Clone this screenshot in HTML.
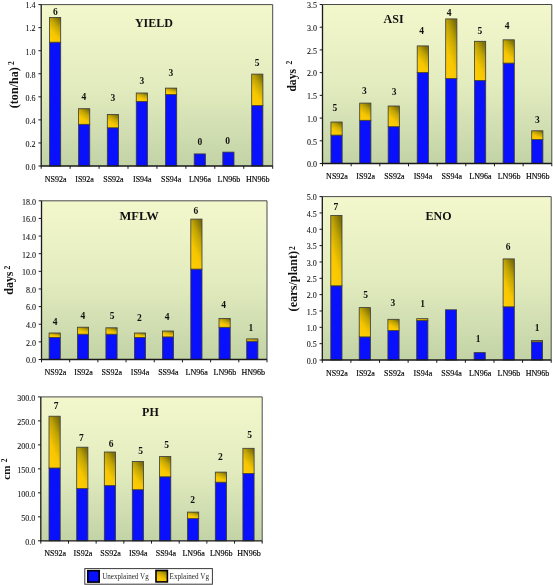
<!DOCTYPE html>
<html><head><meta charset="utf-8"><title>Variance components</title>
<style>
html,body{margin:0;padding:0;background:#fff;}
body{width:553px;height:585px;overflow:hidden;font-family:"Liberation Serif",serif;}
svg{display:block;will-change:transform;}
</style></head><body>
<svg width="553" height="585" viewBox="0 0 553 585">
<defs>
<linearGradient id="bg" x1="0" y1="0" x2="0" y2="1">
<stop offset="0" stop-color="#f3f8cc"/>
<stop offset="0.5" stop-color="#e3ecbf"/>
<stop offset="1" stop-color="#c2d3a6"/>
</linearGradient>
<linearGradient id="yl" x1="0.25" y1="1" x2="0.75" y2="0">
<stop offset="0" stop-color="#ffcc00"/>
<stop offset="0.35" stop-color="#f6c600"/>
<stop offset="0.7" stop-color="#c0a404"/>
<stop offset="1" stop-color="#7c6e08"/>
</linearGradient>
</defs>
<rect width="553" height="585" fill="#ffffff"/>
<rect x="41.2" y="4.6" width="231.5" height="161.4" fill="url(#bg)"/>
<path d="M41.2 4.6H272.7V166" fill="none" stroke="#4a4a4a" stroke-width="1"/>
<rect x="49.5" y="42.2" width="11.2" height="123.8" fill="#0810fc" stroke="#3a3a3a" stroke-width="0.8"/>
<rect x="49.5" y="17.4" width="11.2" height="24.8" fill="url(#yl)" stroke="#3a3a3a" stroke-width="0.8"/>
<text x="55.3" y="15.3" font-family='"Liberation Serif", serif' font-weight="bold" font-size="9.5" text-anchor="middle" fill="#111">6</text>
<rect x="78.55" y="124.3" width="11.2" height="41.7" fill="#0810fc" stroke="#3a3a3a" stroke-width="0.8"/>
<rect x="78.55" y="108.7" width="11.2" height="15.6" fill="url(#yl)" stroke="#3a3a3a" stroke-width="0.8"/>
<text x="83.9" y="100.1" font-family='"Liberation Serif", serif' font-weight="bold" font-size="9.5" text-anchor="middle" fill="#111">4</text>
<rect x="107.3" y="127.8" width="11.2" height="38.2" fill="#0810fc" stroke="#3a3a3a" stroke-width="0.8"/>
<rect x="107.3" y="114.5" width="11.2" height="13.3" fill="url(#yl)" stroke="#3a3a3a" stroke-width="0.8"/>
<text x="112.9" y="101.3" font-family='"Liberation Serif", serif' font-weight="bold" font-size="9.5" text-anchor="middle" fill="#111">3</text>
<rect x="136.25" y="101.4" width="11.2" height="64.6" fill="#0810fc" stroke="#3a3a3a" stroke-width="0.8"/>
<rect x="136.25" y="93" width="11.2" height="8.4" fill="url(#yl)" stroke="#3a3a3a" stroke-width="0.8"/>
<text x="141.8" y="84.2" font-family='"Liberation Serif", serif' font-weight="bold" font-size="9.5" text-anchor="middle" fill="#111">3</text>
<rect x="165.5" y="94.5" width="11.2" height="71.5" fill="#0810fc" stroke="#3a3a3a" stroke-width="0.8"/>
<rect x="165.5" y="88.1" width="11.2" height="6.4" fill="url(#yl)" stroke="#3a3a3a" stroke-width="0.8"/>
<text x="170.9" y="76.4" font-family='"Liberation Serif", serif' font-weight="bold" font-size="9.5" text-anchor="middle" fill="#111">3</text>
<rect x="194.2" y="153.9" width="11.2" height="12.1" fill="#0810fc" stroke="#3a3a3a" stroke-width="0.8"/>
<text x="199.8" y="144.8" font-family='"Liberation Serif", serif' font-weight="bold" font-size="9.5" text-anchor="middle" fill="#111">0</text>
<rect x="222.8" y="152.1" width="11.2" height="13.9" fill="#0810fc" stroke="#3a3a3a" stroke-width="0.8"/>
<text x="227.7" y="143.6" font-family='"Liberation Serif", serif' font-weight="bold" font-size="9.5" text-anchor="middle" fill="#111">0</text>
<rect x="251.7" y="105.5" width="11.2" height="60.5" fill="#0810fc" stroke="#3a3a3a" stroke-width="0.8"/>
<rect x="251.7" y="74.1" width="11.2" height="31.4" fill="url(#yl)" stroke="#3a3a3a" stroke-width="0.8"/>
<text x="257" y="65.7" font-family='"Liberation Serif", serif' font-weight="bold" font-size="9.5" text-anchor="middle" fill="#111">5</text>
<path d="M41.2 4.6V166H272.7" fill="none" stroke="#1a1a1a" stroke-width="1.3"/>
<path d="M38.4 166H41.2" stroke="#1a1a1a" stroke-width="1"/>
<text x="35.6" y="169.8" font-family='"Liberation Serif", serif' font-size="8" text-anchor="end" fill="#111" stroke="#111" stroke-width="0.08">0.0</text>
<path d="M38.4 142.94H41.2" stroke="#1a1a1a" stroke-width="1"/>
<text x="35.6" y="146.74" font-family='"Liberation Serif", serif' font-size="8" text-anchor="end" fill="#111" stroke="#111" stroke-width="0.08">0.2</text>
<path d="M38.4 119.89H41.2" stroke="#1a1a1a" stroke-width="1"/>
<text x="35.6" y="123.69" font-family='"Liberation Serif", serif' font-size="8" text-anchor="end" fill="#111" stroke="#111" stroke-width="0.08">0.4</text>
<path d="M38.4 96.83H41.2" stroke="#1a1a1a" stroke-width="1"/>
<text x="35.6" y="100.63" font-family='"Liberation Serif", serif' font-size="8" text-anchor="end" fill="#111" stroke="#111" stroke-width="0.08">0.6</text>
<path d="M38.4 73.77H41.2" stroke="#1a1a1a" stroke-width="1"/>
<text x="35.6" y="77.57" font-family='"Liberation Serif", serif' font-size="8" text-anchor="end" fill="#111" stroke="#111" stroke-width="0.08">0.8</text>
<path d="M38.4 50.71H41.2" stroke="#1a1a1a" stroke-width="1"/>
<text x="35.6" y="54.51" font-family='"Liberation Serif", serif' font-size="8" text-anchor="end" fill="#111" stroke="#111" stroke-width="0.08">1.0</text>
<path d="M38.4 27.66H41.2" stroke="#1a1a1a" stroke-width="1"/>
<text x="35.6" y="31.46" font-family='"Liberation Serif", serif' font-size="8" text-anchor="end" fill="#111" stroke="#111" stroke-width="0.08">1.2</text>
<path d="M38.4 4.6H41.2" stroke="#1a1a1a" stroke-width="1"/>
<text x="35.6" y="8.4" font-family='"Liberation Serif", serif' font-size="8" text-anchor="end" fill="#111" stroke="#111" stroke-width="0.08">1.4</text>
<path d="M41.2 166V168.8" stroke="#1a1a1a" stroke-width="1"/>
<path d="M70.14 166V168.8" stroke="#1a1a1a" stroke-width="1"/>
<path d="M99.08 166V168.8" stroke="#1a1a1a" stroke-width="1"/>
<path d="M128.01 166V168.8" stroke="#1a1a1a" stroke-width="1"/>
<path d="M156.95 166V168.8" stroke="#1a1a1a" stroke-width="1"/>
<path d="M185.89 166V168.8" stroke="#1a1a1a" stroke-width="1"/>
<path d="M214.82 166V168.8" stroke="#1a1a1a" stroke-width="1"/>
<path d="M243.76 166V168.8" stroke="#1a1a1a" stroke-width="1"/>
<path d="M272.7 166V168.8" stroke="#1a1a1a" stroke-width="1"/>
<text x="55.7" y="181.7" font-family='"Liberation Serif", serif' font-size="8" text-anchor="middle" fill="#000" stroke="#000" stroke-width="0.15">NS92a</text>
<text x="84.57" y="181.7" font-family='"Liberation Serif", serif' font-size="8" text-anchor="middle" fill="#000" stroke="#000" stroke-width="0.15">IS92a</text>
<text x="113.44" y="181.7" font-family='"Liberation Serif", serif' font-size="8" text-anchor="middle" fill="#000" stroke="#000" stroke-width="0.15">SS92a</text>
<text x="142.31" y="181.7" font-family='"Liberation Serif", serif' font-size="8" text-anchor="middle" fill="#000" stroke="#000" stroke-width="0.15">IS94a</text>
<text x="171.18" y="181.7" font-family='"Liberation Serif", serif' font-size="8" text-anchor="middle" fill="#000" stroke="#000" stroke-width="0.15">SS94a</text>
<text x="200.05" y="181.7" font-family='"Liberation Serif", serif' font-size="8" text-anchor="middle" fill="#000" stroke="#000" stroke-width="0.15">LN96a</text>
<text x="228.92" y="181.7" font-family='"Liberation Serif", serif' font-size="8" text-anchor="middle" fill="#000" stroke="#000" stroke-width="0.15">LN96b</text>
<text x="257.79" y="181.7" font-family='"Liberation Serif", serif' font-size="8" text-anchor="middle" fill="#000" stroke="#000" stroke-width="0.15">HN96b</text>
<text x="153.9" y="26.9" font-family='"Liberation Serif", serif' font-weight="bold" font-size="12" text-anchor="middle" fill="#111">YIELD</text>
<text transform="translate(18.3,108.2) rotate(-90)" font-family='"Liberation Serif", serif' font-weight="bold" font-size="11.6" textLength="41" lengthAdjust="spacingAndGlyphs" fill="#111">(ton/ha)</text>
<text transform="translate(13.9,64.9) rotate(-90)" font-family='"Liberation Serif", serif' font-weight="bold" font-size="7.5" fill="#111">2</text>
<rect x="322.5" y="4.5" width="229.3" height="159" fill="url(#bg)"/>
<path d="M322.5 4.5H551.8V163.5" fill="none" stroke="#4a4a4a" stroke-width="1"/>
<rect x="330.95" y="135.1" width="11.2" height="28.4" fill="#0810fc" stroke="#3a3a3a" stroke-width="0.8"/>
<rect x="330.95" y="122" width="11.2" height="13.1" fill="url(#yl)" stroke="#3a3a3a" stroke-width="0.8"/>
<text x="334.9" y="111.2" font-family='"Liberation Serif", serif' font-weight="bold" font-size="9.5" text-anchor="middle" fill="#111">5</text>
<rect x="359.7" y="120.3" width="11.2" height="43.2" fill="#0810fc" stroke="#3a3a3a" stroke-width="0.8"/>
<rect x="359.7" y="103.1" width="11.2" height="17.2" fill="url(#yl)" stroke="#3a3a3a" stroke-width="0.8"/>
<text x="364.3" y="94.3" font-family='"Liberation Serif", serif' font-weight="bold" font-size="9.5" text-anchor="middle" fill="#111">3</text>
<rect x="388.15" y="126.7" width="11.2" height="36.8" fill="#0810fc" stroke="#3a3a3a" stroke-width="0.8"/>
<rect x="388.15" y="106" width="11.2" height="20.7" fill="url(#yl)" stroke="#3a3a3a" stroke-width="0.8"/>
<text x="394.1" y="94.9" font-family='"Liberation Serif", serif' font-weight="bold" font-size="9.5" text-anchor="middle" fill="#111">3</text>
<rect x="417.2" y="72.6" width="11.2" height="90.9" fill="#0810fc" stroke="#3a3a3a" stroke-width="0.8"/>
<rect x="417.2" y="45.9" width="11.2" height="26.7" fill="url(#yl)" stroke="#3a3a3a" stroke-width="0.8"/>
<text x="421.6" y="34.3" font-family='"Liberation Serif", serif' font-weight="bold" font-size="9.5" text-anchor="middle" fill="#111">4</text>
<rect x="445.7" y="78.5" width="11.2" height="85" fill="#0810fc" stroke="#3a3a3a" stroke-width="0.8"/>
<rect x="445.7" y="18.9" width="11.2" height="59.6" fill="url(#yl)" stroke="#3a3a3a" stroke-width="0.8"/>
<text x="449.2" y="15.7" font-family='"Liberation Serif", serif' font-weight="bold" font-size="9.5" text-anchor="middle" fill="#111">4</text>
<rect x="474.5" y="80.5" width="11.2" height="83" fill="#0810fc" stroke="#3a3a3a" stroke-width="0.8"/>
<rect x="474.5" y="41.3" width="11.2" height="39.2" fill="url(#yl)" stroke="#3a3a3a" stroke-width="0.8"/>
<text x="479.8" y="34.4" font-family='"Liberation Serif", serif' font-weight="bold" font-size="9.5" text-anchor="middle" fill="#111">5</text>
<rect x="503.1" y="63.1" width="11.2" height="100.4" fill="#0810fc" stroke="#3a3a3a" stroke-width="0.8"/>
<rect x="503.1" y="39.8" width="11.2" height="23.3" fill="url(#yl)" stroke="#3a3a3a" stroke-width="0.8"/>
<text x="507.1" y="28.7" font-family='"Liberation Serif", serif' font-weight="bold" font-size="9.5" text-anchor="middle" fill="#111">4</text>
<rect x="531.7" y="139.5" width="11.2" height="24" fill="#0810fc" stroke="#3a3a3a" stroke-width="0.8"/>
<rect x="531.7" y="130.8" width="11.2" height="8.7" fill="url(#yl)" stroke="#3a3a3a" stroke-width="0.8"/>
<text x="537.3" y="122.5" font-family='"Liberation Serif", serif' font-weight="bold" font-size="9.5" text-anchor="middle" fill="#111">3</text>
<path d="M322.5 4.5V163.5H551.8" fill="none" stroke="#1a1a1a" stroke-width="1.3"/>
<path d="M319.7 163.5H322.5" stroke="#1a1a1a" stroke-width="1"/>
<text x="316.9" y="167.3" font-family='"Liberation Serif", serif' font-size="8" text-anchor="end" fill="#111" stroke="#111" stroke-width="0.08">0.0</text>
<path d="M319.7 140.79H322.5" stroke="#1a1a1a" stroke-width="1"/>
<text x="316.9" y="144.59" font-family='"Liberation Serif", serif' font-size="8" text-anchor="end" fill="#111" stroke="#111" stroke-width="0.08">0.5</text>
<path d="M319.7 118.07H322.5" stroke="#1a1a1a" stroke-width="1"/>
<text x="316.9" y="121.87" font-family='"Liberation Serif", serif' font-size="8" text-anchor="end" fill="#111" stroke="#111" stroke-width="0.08">1.0</text>
<path d="M319.7 95.36H322.5" stroke="#1a1a1a" stroke-width="1"/>
<text x="316.9" y="99.16" font-family='"Liberation Serif", serif' font-size="8" text-anchor="end" fill="#111" stroke="#111" stroke-width="0.08">1.5</text>
<path d="M319.7 72.64H322.5" stroke="#1a1a1a" stroke-width="1"/>
<text x="316.9" y="76.44" font-family='"Liberation Serif", serif' font-size="8" text-anchor="end" fill="#111" stroke="#111" stroke-width="0.08">2.0</text>
<path d="M319.7 49.93H322.5" stroke="#1a1a1a" stroke-width="1"/>
<text x="316.9" y="53.73" font-family='"Liberation Serif", serif' font-size="8" text-anchor="end" fill="#111" stroke="#111" stroke-width="0.08">2.5</text>
<path d="M319.7 27.21H322.5" stroke="#1a1a1a" stroke-width="1"/>
<text x="316.9" y="31.01" font-family='"Liberation Serif", serif' font-size="8" text-anchor="end" fill="#111" stroke="#111" stroke-width="0.08">3.0</text>
<path d="M319.7 4.5H322.5" stroke="#1a1a1a" stroke-width="1"/>
<text x="316.9" y="8.3" font-family='"Liberation Serif", serif' font-size="8" text-anchor="end" fill="#111" stroke="#111" stroke-width="0.08">3.5</text>
<path d="M322.5 163.5V166.3" stroke="#1a1a1a" stroke-width="1"/>
<path d="M351.16 163.5V166.3" stroke="#1a1a1a" stroke-width="1"/>
<path d="M379.82 163.5V166.3" stroke="#1a1a1a" stroke-width="1"/>
<path d="M408.49 163.5V166.3" stroke="#1a1a1a" stroke-width="1"/>
<path d="M437.15 163.5V166.3" stroke="#1a1a1a" stroke-width="1"/>
<path d="M465.81 163.5V166.3" stroke="#1a1a1a" stroke-width="1"/>
<path d="M494.47 163.5V166.3" stroke="#1a1a1a" stroke-width="1"/>
<path d="M523.14 163.5V166.3" stroke="#1a1a1a" stroke-width="1"/>
<path d="M551.8 163.5V166.3" stroke="#1a1a1a" stroke-width="1"/>
<text x="337" y="179" font-family='"Liberation Serif", serif' font-size="8" text-anchor="middle" fill="#000" stroke="#000" stroke-width="0.15">NS92a</text>
<text x="365.68" y="179" font-family='"Liberation Serif", serif' font-size="8" text-anchor="middle" fill="#000" stroke="#000" stroke-width="0.15">IS92a</text>
<text x="394.36" y="179" font-family='"Liberation Serif", serif' font-size="8" text-anchor="middle" fill="#000" stroke="#000" stroke-width="0.15">SS92a</text>
<text x="423.04" y="179" font-family='"Liberation Serif", serif' font-size="8" text-anchor="middle" fill="#000" stroke="#000" stroke-width="0.15">IS94a</text>
<text x="451.72" y="179" font-family='"Liberation Serif", serif' font-size="8" text-anchor="middle" fill="#000" stroke="#000" stroke-width="0.15">SS94a</text>
<text x="480.4" y="179" font-family='"Liberation Serif", serif' font-size="8" text-anchor="middle" fill="#000" stroke="#000" stroke-width="0.15">LN96a</text>
<text x="509.08" y="179" font-family='"Liberation Serif", serif' font-size="8" text-anchor="middle" fill="#000" stroke="#000" stroke-width="0.15">LN96b</text>
<text x="537.76" y="179" font-family='"Liberation Serif", serif' font-size="8" text-anchor="middle" fill="#000" stroke="#000" stroke-width="0.15">HN96b</text>
<text x="393.6" y="23.4" font-family='"Liberation Serif", serif' font-weight="bold" font-size="12" text-anchor="middle" fill="#111">ASI</text>
<text transform="translate(295.6,91.6) rotate(-90)" font-family='"Liberation Serif", serif' font-weight="bold" font-size="12.3" textLength="22.6" lengthAdjust="spacingAndGlyphs" fill="#111">days</text>
<text transform="translate(292,64.4) rotate(-90)" font-family='"Liberation Serif", serif' font-weight="bold" font-size="7.5" fill="#111">2</text>
<rect x="41.5" y="200.8" width="225.5" height="158.7" fill="url(#bg)"/>
<path d="M41.5 200.8H267V359.5" fill="none" stroke="#4a4a4a" stroke-width="1"/>
<rect x="49.1" y="337.4" width="11.2" height="22.1" fill="#0810fc" stroke="#3a3a3a" stroke-width="0.8"/>
<rect x="49.1" y="333" width="11.2" height="4.4" fill="url(#yl)" stroke="#3a3a3a" stroke-width="0.8"/>
<text x="55" y="325.4" font-family='"Liberation Serif", serif' font-weight="bold" font-size="9.5" text-anchor="middle" fill="#111">4</text>
<rect x="77.4" y="334.2" width="11.2" height="25.3" fill="#0810fc" stroke="#3a3a3a" stroke-width="0.8"/>
<rect x="77.4" y="327.2" width="11.2" height="7" fill="url(#yl)" stroke="#3a3a3a" stroke-width="0.8"/>
<text x="82.9" y="319.4" font-family='"Liberation Serif", serif' font-weight="bold" font-size="9.5" text-anchor="middle" fill="#111">4</text>
<rect x="105.9" y="334.2" width="11.2" height="25.3" fill="#0810fc" stroke="#3a3a3a" stroke-width="0.8"/>
<rect x="105.9" y="327.8" width="11.2" height="6.4" fill="url(#yl)" stroke="#3a3a3a" stroke-width="0.8"/>
<text x="112.2" y="319.4" font-family='"Liberation Serif", serif' font-weight="bold" font-size="9.5" text-anchor="middle" fill="#111">5</text>
<rect x="134.4" y="337.4" width="11.2" height="22.1" fill="#0810fc" stroke="#3a3a3a" stroke-width="0.8"/>
<rect x="134.4" y="333" width="11.2" height="4.4" fill="url(#yl)" stroke="#3a3a3a" stroke-width="0.8"/>
<text x="139.4" y="320.9" font-family='"Liberation Serif", serif' font-weight="bold" font-size="9.5" text-anchor="middle" fill="#111">2</text>
<rect x="162.4" y="336.9" width="11.2" height="22.6" fill="#0810fc" stroke="#3a3a3a" stroke-width="0.8"/>
<rect x="162.4" y="331" width="11.2" height="5.9" fill="url(#yl)" stroke="#3a3a3a" stroke-width="0.8"/>
<text x="167.2" y="320.4" font-family='"Liberation Serif", serif' font-weight="bold" font-size="9.5" text-anchor="middle" fill="#111">4</text>
<rect x="190.8" y="269.1" width="11.2" height="90.4" fill="#0810fc" stroke="#3a3a3a" stroke-width="0.8"/>
<rect x="190.8" y="219.1" width="11.2" height="50" fill="url(#yl)" stroke="#3a3a3a" stroke-width="0.8"/>
<text x="195.9" y="214" font-family='"Liberation Serif", serif' font-weight="bold" font-size="9.5" text-anchor="middle" fill="#111">6</text>
<rect x="219" y="327.3" width="11.2" height="32.2" fill="#0810fc" stroke="#3a3a3a" stroke-width="0.8"/>
<rect x="219" y="318.5" width="11.2" height="8.8" fill="url(#yl)" stroke="#3a3a3a" stroke-width="0.8"/>
<text x="223.5" y="308.4" font-family='"Liberation Serif", serif' font-weight="bold" font-size="9.5" text-anchor="middle" fill="#111">4</text>
<rect x="246.7" y="341.2" width="11.2" height="18.3" fill="#0810fc" stroke="#3a3a3a" stroke-width="0.8"/>
<rect x="246.7" y="338.9" width="11.2" height="2.3" fill="url(#yl)" stroke="#3a3a3a" stroke-width="0.8"/>
<text x="250.8" y="331.1" font-family='"Liberation Serif", serif' font-weight="bold" font-size="9.5" text-anchor="middle" fill="#111">1</text>
<path d="M41.5 200.8V359.5H267" fill="none" stroke="#1a1a1a" stroke-width="1.3"/>
<path d="M38.7 359.5H41.5" stroke="#1a1a1a" stroke-width="1"/>
<text x="35.9" y="363.3" font-family='"Liberation Serif", serif' font-size="8" text-anchor="end" fill="#111" stroke="#111" stroke-width="0.08">0.0</text>
<path d="M38.7 341.87H41.5" stroke="#1a1a1a" stroke-width="1"/>
<text x="35.9" y="345.67" font-family='"Liberation Serif", serif' font-size="8" text-anchor="end" fill="#111" stroke="#111" stroke-width="0.08">2.0</text>
<path d="M38.7 324.23H41.5" stroke="#1a1a1a" stroke-width="1"/>
<text x="35.9" y="328.03" font-family='"Liberation Serif", serif' font-size="8" text-anchor="end" fill="#111" stroke="#111" stroke-width="0.08">4.0</text>
<path d="M38.7 306.6H41.5" stroke="#1a1a1a" stroke-width="1"/>
<text x="35.9" y="310.4" font-family='"Liberation Serif", serif' font-size="8" text-anchor="end" fill="#111" stroke="#111" stroke-width="0.08">6.0</text>
<path d="M38.7 288.97H41.5" stroke="#1a1a1a" stroke-width="1"/>
<text x="35.9" y="292.77" font-family='"Liberation Serif", serif' font-size="8" text-anchor="end" fill="#111" stroke="#111" stroke-width="0.08">8.0</text>
<path d="M38.7 271.33H41.5" stroke="#1a1a1a" stroke-width="1"/>
<text x="35.9" y="275.13" font-family='"Liberation Serif", serif' font-size="8" text-anchor="end" fill="#111" stroke="#111" stroke-width="0.08">10.0</text>
<path d="M38.7 253.7H41.5" stroke="#1a1a1a" stroke-width="1"/>
<text x="35.9" y="257.5" font-family='"Liberation Serif", serif' font-size="8" text-anchor="end" fill="#111" stroke="#111" stroke-width="0.08">12.0</text>
<path d="M38.7 236.07H41.5" stroke="#1a1a1a" stroke-width="1"/>
<text x="35.9" y="239.87" font-family='"Liberation Serif", serif' font-size="8" text-anchor="end" fill="#111" stroke="#111" stroke-width="0.08">14.0</text>
<path d="M38.7 218.43H41.5" stroke="#1a1a1a" stroke-width="1"/>
<text x="35.9" y="222.23" font-family='"Liberation Serif", serif' font-size="8" text-anchor="end" fill="#111" stroke="#111" stroke-width="0.08">16.0</text>
<path d="M38.7 200.8H41.5" stroke="#1a1a1a" stroke-width="1"/>
<text x="35.9" y="204.6" font-family='"Liberation Serif", serif' font-size="8" text-anchor="end" fill="#111" stroke="#111" stroke-width="0.08">18.0</text>
<path d="M41.5 359.5V362.3" stroke="#1a1a1a" stroke-width="1"/>
<path d="M69.69 359.5V362.3" stroke="#1a1a1a" stroke-width="1"/>
<path d="M97.88 359.5V362.3" stroke="#1a1a1a" stroke-width="1"/>
<path d="M126.06 359.5V362.3" stroke="#1a1a1a" stroke-width="1"/>
<path d="M154.25 359.5V362.3" stroke="#1a1a1a" stroke-width="1"/>
<path d="M182.44 359.5V362.3" stroke="#1a1a1a" stroke-width="1"/>
<path d="M210.62 359.5V362.3" stroke="#1a1a1a" stroke-width="1"/>
<path d="M238.81 359.5V362.3" stroke="#1a1a1a" stroke-width="1"/>
<path d="M267 359.5V362.3" stroke="#1a1a1a" stroke-width="1"/>
<text x="55.3" y="375.3" font-family='"Liberation Serif", serif' font-size="8" text-anchor="middle" fill="#000" stroke="#000" stroke-width="0.15">NS92a</text>
<text x="83.56" y="375.3" font-family='"Liberation Serif", serif' font-size="8" text-anchor="middle" fill="#000" stroke="#000" stroke-width="0.15">IS92a</text>
<text x="111.83" y="375.3" font-family='"Liberation Serif", serif' font-size="8" text-anchor="middle" fill="#000" stroke="#000" stroke-width="0.15">SS92a</text>
<text x="140.09" y="375.3" font-family='"Liberation Serif", serif' font-size="8" text-anchor="middle" fill="#000" stroke="#000" stroke-width="0.15">IS94a</text>
<text x="168.36" y="375.3" font-family='"Liberation Serif", serif' font-size="8" text-anchor="middle" fill="#000" stroke="#000" stroke-width="0.15">SS94a</text>
<text x="196.62" y="375.3" font-family='"Liberation Serif", serif' font-size="8" text-anchor="middle" fill="#000" stroke="#000" stroke-width="0.15">LN96a</text>
<text x="224.89" y="375.3" font-family='"Liberation Serif", serif' font-size="8" text-anchor="middle" fill="#000" stroke="#000" stroke-width="0.15">LN96b</text>
<text x="253.16" y="375.3" font-family='"Liberation Serif", serif' font-size="8" text-anchor="middle" fill="#000" stroke="#000" stroke-width="0.15">HN96b</text>
<text x="139.1" y="219.6" font-family='"Liberation Serif", serif' font-weight="bold" font-size="12.5" text-anchor="middle" fill="#111">MFLW</text>
<text transform="translate(12.8,294.7) rotate(-90)" font-family='"Liberation Serif", serif' font-weight="bold" font-size="12.3" textLength="23.2" lengthAdjust="spacingAndGlyphs" fill="#111">days</text>
<text transform="translate(10.3,269.4) rotate(-90)" font-family='"Liberation Serif", serif' font-weight="bold" font-size="7.5" fill="#111">2</text>
<rect x="322.3" y="196.6" width="228.9" height="163.4" fill="url(#bg)"/>
<path d="M322.3 196.6H551.2V360" fill="none" stroke="#4a4a4a" stroke-width="1"/>
<rect x="330.8" y="285.8" width="11.2" height="74.2" fill="#0810fc" stroke="#3a3a3a" stroke-width="0.8"/>
<rect x="330.8" y="215.4" width="11.2" height="70.4" fill="url(#yl)" stroke="#3a3a3a" stroke-width="0.8"/>
<text x="335.9" y="210.2" font-family='"Liberation Serif", serif' font-weight="bold" font-size="9.5" text-anchor="middle" fill="#111">7</text>
<rect x="359.2" y="336.9" width="11.2" height="23.1" fill="#0810fc" stroke="#3a3a3a" stroke-width="0.8"/>
<rect x="359.2" y="307.6" width="11.2" height="29.3" fill="url(#yl)" stroke="#3a3a3a" stroke-width="0.8"/>
<text x="365.7" y="298" font-family='"Liberation Serif", serif' font-weight="bold" font-size="9.5" text-anchor="middle" fill="#111">5</text>
<rect x="387.9" y="330.6" width="11.2" height="29.4" fill="#0810fc" stroke="#3a3a3a" stroke-width="0.8"/>
<rect x="387.9" y="319.3" width="11.2" height="11.3" fill="url(#yl)" stroke="#3a3a3a" stroke-width="0.8"/>
<text x="392.9" y="305.7" font-family='"Liberation Serif", serif' font-weight="bold" font-size="9.5" text-anchor="middle" fill="#111">3</text>
<rect x="416.7" y="320.5" width="11.2" height="39.5" fill="#0810fc" stroke="#3a3a3a" stroke-width="0.8"/>
<rect x="416.7" y="318.7" width="11.2" height="1.8" fill="url(#yl)" stroke="#3a3a3a" stroke-width="0.8"/>
<text x="422.7" y="307.1" font-family='"Liberation Serif", serif' font-weight="bold" font-size="9.5" text-anchor="middle" fill="#111">1</text>
<rect x="445.4" y="309.8" width="11.2" height="50.2" fill="#0810fc" stroke="#3a3a3a" stroke-width="0.8"/>
<rect x="474.1" y="352.6" width="11.2" height="7.4" fill="#0810fc" stroke="#3a3a3a" stroke-width="0.8"/>
<text x="478" y="341.7" font-family='"Liberation Serif", serif' font-weight="bold" font-size="9.5" text-anchor="middle" fill="#111">1</text>
<rect x="503.1" y="306.8" width="11.2" height="53.2" fill="#0810fc" stroke="#3a3a3a" stroke-width="0.8"/>
<rect x="503.1" y="258.9" width="11.2" height="47.9" fill="url(#yl)" stroke="#3a3a3a" stroke-width="0.8"/>
<text x="508.1" y="249.9" font-family='"Liberation Serif", serif' font-weight="bold" font-size="9.5" text-anchor="middle" fill="#111">6</text>
<rect x="531.4" y="341.8" width="11.2" height="18.2" fill="#0810fc" stroke="#3a3a3a" stroke-width="0.8"/>
<rect x="531.4" y="340.6" width="11.2" height="1.2" fill="url(#yl)" stroke="#3a3a3a" stroke-width="0.8"/>
<text x="537.2" y="331.4" font-family='"Liberation Serif", serif' font-weight="bold" font-size="9.5" text-anchor="middle" fill="#111">1</text>
<path d="M322.3 196.6V360H551.2" fill="none" stroke="#1a1a1a" stroke-width="1.3"/>
<path d="M319.5 360H322.3" stroke="#1a1a1a" stroke-width="1"/>
<text x="316.7" y="363.8" font-family='"Liberation Serif", serif' font-size="8" text-anchor="end" fill="#111" stroke="#111" stroke-width="0.08">0.0</text>
<path d="M319.5 343.66H322.3" stroke="#1a1a1a" stroke-width="1"/>
<text x="316.7" y="347.46" font-family='"Liberation Serif", serif' font-size="8" text-anchor="end" fill="#111" stroke="#111" stroke-width="0.08">0.5</text>
<path d="M319.5 327.32H322.3" stroke="#1a1a1a" stroke-width="1"/>
<text x="316.7" y="331.12" font-family='"Liberation Serif", serif' font-size="8" text-anchor="end" fill="#111" stroke="#111" stroke-width="0.08">1.0</text>
<path d="M319.5 310.98H322.3" stroke="#1a1a1a" stroke-width="1"/>
<text x="316.7" y="314.78" font-family='"Liberation Serif", serif' font-size="8" text-anchor="end" fill="#111" stroke="#111" stroke-width="0.08">1.5</text>
<path d="M319.5 294.64H322.3" stroke="#1a1a1a" stroke-width="1"/>
<text x="316.7" y="298.44" font-family='"Liberation Serif", serif' font-size="8" text-anchor="end" fill="#111" stroke="#111" stroke-width="0.08">2.0</text>
<path d="M319.5 278.3H322.3" stroke="#1a1a1a" stroke-width="1"/>
<text x="316.7" y="282.1" font-family='"Liberation Serif", serif' font-size="8" text-anchor="end" fill="#111" stroke="#111" stroke-width="0.08">2.5</text>
<path d="M319.5 261.96H322.3" stroke="#1a1a1a" stroke-width="1"/>
<text x="316.7" y="265.76" font-family='"Liberation Serif", serif' font-size="8" text-anchor="end" fill="#111" stroke="#111" stroke-width="0.08">3.0</text>
<path d="M319.5 245.62H322.3" stroke="#1a1a1a" stroke-width="1"/>
<text x="316.7" y="249.42" font-family='"Liberation Serif", serif' font-size="8" text-anchor="end" fill="#111" stroke="#111" stroke-width="0.08">3.5</text>
<path d="M319.5 229.28H322.3" stroke="#1a1a1a" stroke-width="1"/>
<text x="316.7" y="233.08" font-family='"Liberation Serif", serif' font-size="8" text-anchor="end" fill="#111" stroke="#111" stroke-width="0.08">4.0</text>
<path d="M319.5 212.94H322.3" stroke="#1a1a1a" stroke-width="1"/>
<text x="316.7" y="216.74" font-family='"Liberation Serif", serif' font-size="8" text-anchor="end" fill="#111" stroke="#111" stroke-width="0.08">4.5</text>
<path d="M319.5 196.6H322.3" stroke="#1a1a1a" stroke-width="1"/>
<text x="316.7" y="200.4" font-family='"Liberation Serif", serif' font-size="8" text-anchor="end" fill="#111" stroke="#111" stroke-width="0.08">5.0</text>
<path d="M322.3 360V362.8" stroke="#1a1a1a" stroke-width="1"/>
<path d="M350.91 360V362.8" stroke="#1a1a1a" stroke-width="1"/>
<path d="M379.53 360V362.8" stroke="#1a1a1a" stroke-width="1"/>
<path d="M408.14 360V362.8" stroke="#1a1a1a" stroke-width="1"/>
<path d="M436.75 360V362.8" stroke="#1a1a1a" stroke-width="1"/>
<path d="M465.36 360V362.8" stroke="#1a1a1a" stroke-width="1"/>
<path d="M493.98 360V362.8" stroke="#1a1a1a" stroke-width="1"/>
<path d="M522.59 360V362.8" stroke="#1a1a1a" stroke-width="1"/>
<path d="M551.2 360V362.8" stroke="#1a1a1a" stroke-width="1"/>
<text x="336.9" y="375.8" font-family='"Liberation Serif", serif' font-size="8" text-anchor="middle" fill="#000" stroke="#000" stroke-width="0.15">NS92a</text>
<text x="365.56" y="375.8" font-family='"Liberation Serif", serif' font-size="8" text-anchor="middle" fill="#000" stroke="#000" stroke-width="0.15">IS92a</text>
<text x="394.22" y="375.8" font-family='"Liberation Serif", serif' font-size="8" text-anchor="middle" fill="#000" stroke="#000" stroke-width="0.15">SS92a</text>
<text x="422.88" y="375.8" font-family='"Liberation Serif", serif' font-size="8" text-anchor="middle" fill="#000" stroke="#000" stroke-width="0.15">IS94a</text>
<text x="451.54" y="375.8" font-family='"Liberation Serif", serif' font-size="8" text-anchor="middle" fill="#000" stroke="#000" stroke-width="0.15">SS94a</text>
<text x="480.2" y="375.8" font-family='"Liberation Serif", serif' font-size="8" text-anchor="middle" fill="#000" stroke="#000" stroke-width="0.15">LN96a</text>
<text x="508.86" y="375.8" font-family='"Liberation Serif", serif' font-size="8" text-anchor="middle" fill="#000" stroke="#000" stroke-width="0.15">LN96b</text>
<text x="537.52" y="375.8" font-family='"Liberation Serif", serif' font-size="8" text-anchor="middle" fill="#000" stroke="#000" stroke-width="0.15">HN96b</text>
<text x="438.5" y="220.4" font-family='"Liberation Serif", serif' font-weight="bold" font-size="12" text-anchor="middle" fill="#111">ENO</text>
<text transform="translate(297.2,311.4) rotate(-90)" font-family='"Liberation Serif", serif' font-weight="bold" font-size="11.6" textLength="60.6" lengthAdjust="spacingAndGlyphs" fill="#111">(ears/plant)</text>
<text transform="translate(295.4,249.9) rotate(-90)" font-family='"Liberation Serif", serif' font-weight="bold" font-size="7.5" fill="#111">2</text>
<rect x="40.8" y="396.9" width="221.4" height="143.9" fill="url(#bg)"/>
<path d="M40.8 396.9H262.2V540.8" fill="none" stroke="#4a4a4a" stroke-width="1"/>
<rect x="49" y="468" width="11.2" height="72.8" fill="#0810fc" stroke="#3a3a3a" stroke-width="0.8"/>
<rect x="49" y="416.2" width="11.2" height="51.8" fill="url(#yl)" stroke="#3a3a3a" stroke-width="0.8"/>
<text x="56.1" y="409.2" font-family='"Liberation Serif", serif' font-weight="bold" font-size="9.5" text-anchor="middle" fill="#111">7</text>
<rect x="76.7" y="488.5" width="11.2" height="52.3" fill="#0810fc" stroke="#3a3a3a" stroke-width="0.8"/>
<rect x="76.7" y="447.2" width="11.2" height="41.3" fill="url(#yl)" stroke="#3a3a3a" stroke-width="0.8"/>
<text x="81.4" y="441.1" font-family='"Liberation Serif", serif' font-weight="bold" font-size="9.5" text-anchor="middle" fill="#111">7</text>
<rect x="104.3" y="485.6" width="11.2" height="55.2" fill="#0810fc" stroke="#3a3a3a" stroke-width="0.8"/>
<rect x="104.3" y="452" width="11.2" height="33.6" fill="url(#yl)" stroke="#3a3a3a" stroke-width="0.8"/>
<text x="111.2" y="447" font-family='"Liberation Serif", serif' font-weight="bold" font-size="9.5" text-anchor="middle" fill="#111">6</text>
<rect x="132.3" y="489.7" width="11.2" height="51.1" fill="#0810fc" stroke="#3a3a3a" stroke-width="0.8"/>
<rect x="132.3" y="461.5" width="11.2" height="28.2" fill="url(#yl)" stroke="#3a3a3a" stroke-width="0.8"/>
<text x="140.5" y="454.2" font-family='"Liberation Serif", serif' font-weight="bold" font-size="9.5" text-anchor="middle" fill="#111">5</text>
<rect x="159.6" y="476.8" width="11.2" height="64" fill="#0810fc" stroke="#3a3a3a" stroke-width="0.8"/>
<rect x="159.6" y="456.5" width="11.2" height="20.3" fill="url(#yl)" stroke="#3a3a3a" stroke-width="0.8"/>
<text x="166.7" y="447.7" font-family='"Liberation Serif", serif' font-weight="bold" font-size="9.5" text-anchor="middle" fill="#111">5</text>
<rect x="187.5" y="518.6" width="11.2" height="22.2" fill="#0810fc" stroke="#3a3a3a" stroke-width="0.8"/>
<rect x="187.5" y="512.1" width="11.2" height="6.5" fill="url(#yl)" stroke="#3a3a3a" stroke-width="0.8"/>
<text x="192.6" y="503.4" font-family='"Liberation Serif", serif' font-weight="bold" font-size="9.5" text-anchor="middle" fill="#111">2</text>
<rect x="215.3" y="482.2" width="11.2" height="58.6" fill="#0810fc" stroke="#3a3a3a" stroke-width="0.8"/>
<rect x="215.3" y="472.1" width="11.2" height="10.1" fill="url(#yl)" stroke="#3a3a3a" stroke-width="0.8"/>
<text x="220.3" y="459.9" font-family='"Liberation Serif", serif' font-weight="bold" font-size="9.5" text-anchor="middle" fill="#111">2</text>
<rect x="242.9" y="473.5" width="11.2" height="67.3" fill="#0810fc" stroke="#3a3a3a" stroke-width="0.8"/>
<rect x="242.9" y="448.3" width="11.2" height="25.2" fill="url(#yl)" stroke="#3a3a3a" stroke-width="0.8"/>
<text x="249.5" y="437.6" font-family='"Liberation Serif", serif' font-weight="bold" font-size="9.5" text-anchor="middle" fill="#111">5</text>
<path d="M40.8 396.9V540.8H262.2" fill="none" stroke="#1a1a1a" stroke-width="1.3"/>
<path d="M38 540.8H40.8" stroke="#1a1a1a" stroke-width="1"/>
<text x="35.2" y="544.6" font-family='"Liberation Serif", serif' font-size="8" text-anchor="end" fill="#111" stroke="#111" stroke-width="0.08">0.0</text>
<path d="M38 516.82H40.8" stroke="#1a1a1a" stroke-width="1"/>
<text x="35.2" y="520.62" font-family='"Liberation Serif", serif' font-size="8" text-anchor="end" fill="#111" stroke="#111" stroke-width="0.08">50.0</text>
<path d="M38 492.83H40.8" stroke="#1a1a1a" stroke-width="1"/>
<text x="35.2" y="496.63" font-family='"Liberation Serif", serif' font-size="8" text-anchor="end" fill="#111" stroke="#111" stroke-width="0.08">100.0</text>
<path d="M38 468.85H40.8" stroke="#1a1a1a" stroke-width="1"/>
<text x="35.2" y="472.65" font-family='"Liberation Serif", serif' font-size="8" text-anchor="end" fill="#111" stroke="#111" stroke-width="0.08">150.0</text>
<path d="M38 444.87H40.8" stroke="#1a1a1a" stroke-width="1"/>
<text x="35.2" y="448.67" font-family='"Liberation Serif", serif' font-size="8" text-anchor="end" fill="#111" stroke="#111" stroke-width="0.08">200.0</text>
<path d="M38 420.88H40.8" stroke="#1a1a1a" stroke-width="1"/>
<text x="35.2" y="424.68" font-family='"Liberation Serif", serif' font-size="8" text-anchor="end" fill="#111" stroke="#111" stroke-width="0.08">250.0</text>
<path d="M38 396.9H40.8" stroke="#1a1a1a" stroke-width="1"/>
<text x="35.2" y="400.7" font-family='"Liberation Serif", serif' font-size="8" text-anchor="end" fill="#111" stroke="#111" stroke-width="0.08">300.0</text>
<path d="M40.8 540.8V543.6" stroke="#1a1a1a" stroke-width="1"/>
<path d="M68.47 540.8V543.6" stroke="#1a1a1a" stroke-width="1"/>
<path d="M96.15 540.8V543.6" stroke="#1a1a1a" stroke-width="1"/>
<path d="M123.82 540.8V543.6" stroke="#1a1a1a" stroke-width="1"/>
<path d="M151.5 540.8V543.6" stroke="#1a1a1a" stroke-width="1"/>
<path d="M179.18 540.8V543.6" stroke="#1a1a1a" stroke-width="1"/>
<path d="M206.85 540.8V543.6" stroke="#1a1a1a" stroke-width="1"/>
<path d="M234.52 540.8V543.6" stroke="#1a1a1a" stroke-width="1"/>
<path d="M262.2 540.8V543.6" stroke="#1a1a1a" stroke-width="1"/>
<text x="55.2" y="556.2" font-family='"Liberation Serif", serif' font-size="8" text-anchor="middle" fill="#000" stroke="#000" stroke-width="0.15">NS92a</text>
<text x="82.88" y="556.2" font-family='"Liberation Serif", serif' font-size="8" text-anchor="middle" fill="#000" stroke="#000" stroke-width="0.15">IS92a</text>
<text x="110.56" y="556.2" font-family='"Liberation Serif", serif' font-size="8" text-anchor="middle" fill="#000" stroke="#000" stroke-width="0.15">SS92a</text>
<text x="138.24" y="556.2" font-family='"Liberation Serif", serif' font-size="8" text-anchor="middle" fill="#000" stroke="#000" stroke-width="0.15">IS94a</text>
<text x="165.92" y="556.2" font-family='"Liberation Serif", serif' font-size="8" text-anchor="middle" fill="#000" stroke="#000" stroke-width="0.15">SS94a</text>
<text x="193.6" y="556.2" font-family='"Liberation Serif", serif' font-size="8" text-anchor="middle" fill="#000" stroke="#000" stroke-width="0.15">LN96a</text>
<text x="221.28" y="556.2" font-family='"Liberation Serif", serif' font-size="8" text-anchor="middle" fill="#000" stroke="#000" stroke-width="0.15">LN96b</text>
<text x="248.96" y="556.2" font-family='"Liberation Serif", serif' font-size="8" text-anchor="middle" fill="#000" stroke="#000" stroke-width="0.15">HN96b</text>
<text x="150.4" y="415.7" font-family='"Liberation Serif", serif' font-weight="bold" font-size="12" text-anchor="middle" fill="#111">PH</text>
<text transform="translate(10.2,479.7) rotate(-90)" font-family='"Liberation Serif", serif' font-weight="bold" font-size="11.2" textLength="14.2" lengthAdjust="spacingAndGlyphs" fill="#111">cm</text>
<text transform="translate(6.9,462.3) rotate(-90)" font-family='"Liberation Serif", serif' font-weight="bold" font-size="7.5" fill="#111">2</text>
<rect x="84.8" y="568.6" width="127.6" height="15.6" fill="#ffffff" stroke="#3a3a3a" stroke-width="1"/>
<rect x="87.8" y="570.7" width="11.4" height="11.4" fill="#0810fc" stroke="#000" stroke-width="1.6"/>
<text x="102.2" y="578.8" font-family='"Liberation Serif", serif' font-size="7.2" textLength="46.5" lengthAdjust="spacingAndGlyphs" fill="#2a2a2a">Unexplained Vg</text>
<rect x="156" y="570.5" width="11.4" height="11.4" fill="url(#yl)" stroke="#000" stroke-width="1.6"/>
<text x="169.6" y="578.8" font-family='"Liberation Serif", serif' font-size="7.2" textLength="39.4" lengthAdjust="spacingAndGlyphs" fill="#2a2a2a">Explained Vg</text>
</svg>
</body></html>
